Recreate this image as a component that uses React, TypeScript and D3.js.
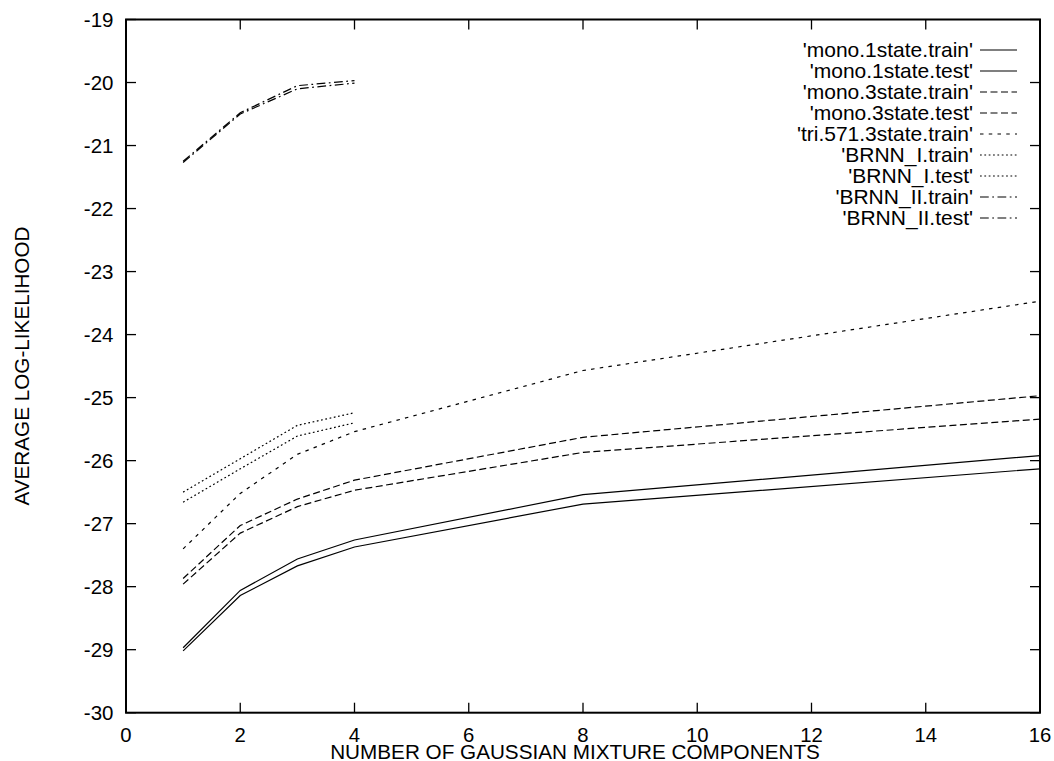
import React from "react";
import * as d3 from "d3";

const xFull = [1, 2, 3, 4, 8, 16];
const xShort = [1, 2, 3, 4];

const mono1Train = [-28.97, -28.06, -27.56, -27.26, -26.54, -25.92];
const mono1Test = [-29.02, -28.14, -27.67, -27.37, -26.69, -26.13];
const mono3Train = [-27.87, -27.03, -26.61, -26.31, -25.63, -24.97];
const mono3Test = [-27.96, -27.15, -26.73, -26.47, -25.87, -25.34];
const triTrain = [-27.4, -26.52, -25.9, -25.54, -24.57, -23.47];
const brnn1Train = [-26.5, -25.97, -25.44, -25.24];
const brnn1Test = [-26.66, -26.13, -25.61, -25.4];
const brnn2Train = [-21.25, -20.48, -20.05, -19.97];
const brnn2Test = [-21.27, -20.5, -20.1, -20.01];

const xTicks = [0, 2, 4, 6, 8, 10, 12, 14, 16];
const yTicks = [-30, -29, -28, -27, -26, -25, -24, -23, -22, -21, -20, -19];

const DASH_SOLID = "none";
const DASH_LONG = "7,3.5";
const DASH_SHORT = "3.5,5.25";
const DASH_DOT = "1.75,2.6";
const DASH_DOTDASH = "8.75,3.5,1.75,3.5";

const series = [
  { name: "'mono.1state.train'", xs: xFull, ys: mono1Train, dash: DASH_SOLID },
  { name: "'mono.1state.test'", xs: xFull, ys: mono1Test, dash: DASH_SOLID },
  { name: "'mono.3state.train'", xs: xFull, ys: mono3Train, dash: DASH_LONG },
  { name: "'mono.3state.test'", xs: xFull, ys: mono3Test, dash: DASH_LONG },
  { name: "'tri.571.3state.train'", xs: xFull, ys: triTrain, dash: DASH_SHORT },
  { name: "'BRNN_I.train'", xs: xShort, ys: brnn1Train, dash: DASH_DOT },
  { name: "'BRNN_I.test'", xs: xShort, ys: brnn1Test, dash: DASH_DOT },
  { name: "'BRNN_II.train'", xs: xShort, ys: brnn2Train, dash: DASH_DOTDASH },
  { name: "'BRNN_II.test'", xs: xShort, ys: brnn2Test, dash: DASH_DOTDASH },
];

const W = 1054;
const H = 761;
const L = 126, R = 1040, T = 19.5, B = 712.7;
const FONT = "'Liberation Sans', Arial, Helvetica, sans-serif";

export default function App() {
  const x = d3.scaleLinear().domain([0, 16]).range([L, R]);
  const y = d3.scaleLinear().domain([-30, -19]).range([B, T]);
  const line = d3
    .line<[number, number]>()
    .x((d) => x(d[0]))
    .y((d) => y(d[1]));

  const tickLen = 10;

  return (
    <svg
      width={W}
      height={H}
      style={{ position: "absolute", left: 0, top: 0, background: "#fff" }}
      fontFamily={FONT}
    >
      <rect x={0} y={0} width={W} height={H} fill="#fff" />
      {xTicks.map((t) => (
        <g key={"xt" + t}>
          <line x1={x(t)} x2={x(t)} y1={B} y2={B - tickLen} stroke="#000" strokeWidth={1.3} />
          <line x1={x(t)} x2={x(t)} y1={T} y2={T + tickLen} stroke="#000" strokeWidth={1.3} />
          <text x={x(t)} y={B + 28.8} textAnchor="middle" fontSize={20.3} fill="#000">
            {t}
          </text>
        </g>
      ))}
      {yTicks.map((t) => (
        <g key={"yt" + t}>
          <line x1={L} x2={L + tickLen} y1={y(t)} y2={y(t)} stroke="#000" strokeWidth={1.3} />
          <line x1={R} x2={R - tickLen} y1={y(t)} y2={y(t)} stroke="#000" strokeWidth={1.3} />
          <text x={113.5} y={y(t) + 7.3} textAnchor="end" fontSize={20.5} fill="#000">
            {t}
          </text>
        </g>
      ))}
      {series.map((s) => (
        <path
          key={s.name}
          d={line(s.xs.map((v, i) => [v, s.ys[i]] as [number, number])) || ""}
          fill="none"
          stroke="#000"
          strokeWidth={1.2}
          strokeDasharray={s.dash}
        />
      ))}
      <rect x={L} y={T} width={R - L} height={B - T} fill="none" stroke="#000" strokeWidth={2} />
      {series.map((s, i) => {
        const ly = 50 + i * 21;
        return (
          <g key={"lg" + s.name}>
            <text x={973} y={ly + 7} textAnchor="end" fontSize={21} fill="#000">
              {s.name}
            </text>
            <line x1={980} x2={1017} y1={ly} y2={ly} stroke="#000" strokeWidth={1.2} strokeDasharray={s.dash} />
          </g>
        );
      })}
      <text x={575} y={758.5} textAnchor="middle" fontSize={20.7} fill="#000">
        NUMBER OF GAUSSIAN MIXTURE COMPONENTS
      </text>
      <text
        transform={`translate(28.5, ${366}) rotate(-90)`}
        textAnchor="middle"
        fontSize={20.7}
        fill="#000"
      >
        AVERAGE LOG-LIKELIHOOD
      </text>
    </svg>
  );
}
